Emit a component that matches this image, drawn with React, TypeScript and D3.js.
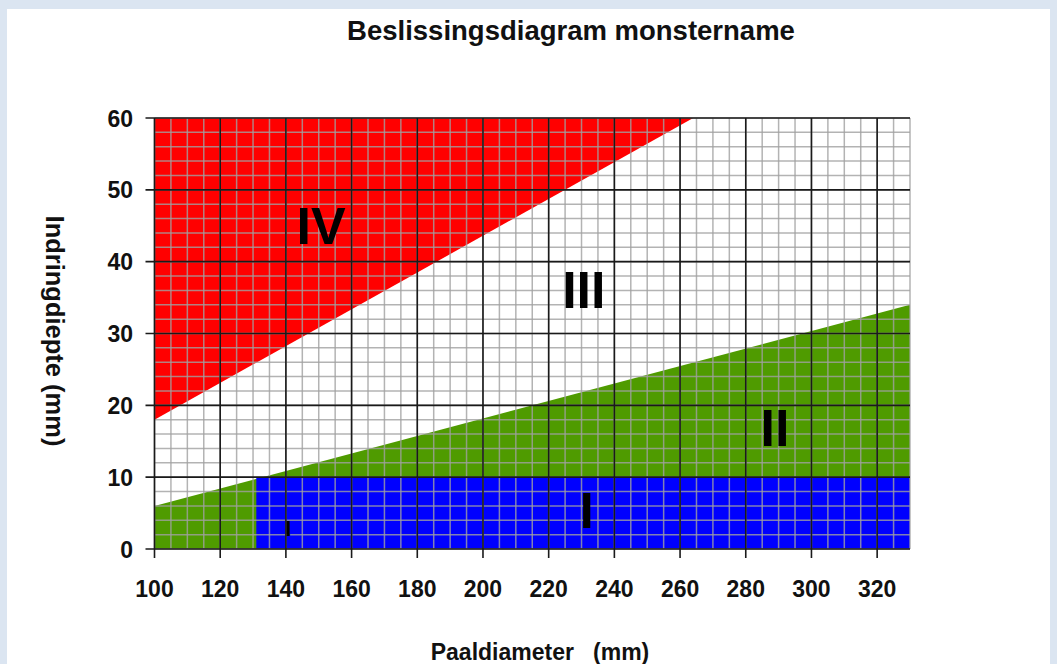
import React from "react";
import * as d3 from "d3";

const W = 1057;
const H = 664;

const chartTitle = "Beslissingsdiagram monstername";
const xTitle = "Paaldiameter   (mm)";
const yTitle = "Indringdiepte (mm)";

const xDomain = [100, 330];
const yDomain = [0, 60];
const xTicks = [100, 120, 140, 160, 180, 200, 220, 240, 260, 280, 300, 320];
const yTicks = [0, 10, 20, 30, 40, 50, 60];
const xMinorStep = 5;
const yMinorStep = 2;

// Zone polygons in data units (Paaldiameter, Indringdiepte)
const zoneIV: [number, number][] = [[100, 18], [264, 60], [100, 60]];
const zoneII: [number, number][] = [[100, 0], [100, 6], [330, 34], [330, 0]];
const zoneI: [number, number][] = [[131, 0], [131, 10], [330, 10], [330, 0]];

const zoneLabels = ["IV", "III", "II", "I", "I"];
const labelX = [150.7, 230.7, 288.9, 231.6, 140.7];
const labelY = [45.1, 36.2, 16.9, 5.4, 2.9];
const labelSize = [52, 52, 52, 50, 22];

export default function App() {
  const m = { left: 154.5, right: 910, top: 118, bottom: 549 };
  const x = d3.scaleLinear().domain(xDomain).range([m.left, m.right]);
  const y = d3.scaleLinear().domain(yDomain).range([m.bottom, m.top]);
  const line = d3
    .line<[number, number]>()
    .x((d) => x(d[0]))
    .y((d) => y(d[1]))
    .curve(d3.curveLinearClosed);

  const xMinor = d3.range(xDomain[0], xDomain[1] + 0.001, xMinorStep);
  const yMinor = d3.range(yDomain[0], yDomain[1] + 0.001, yMinorStep);
  const font = "'Liberation Sans', Arial, sans-serif";

  return (
    <svg
      width={W}
      height={H}
      style={{ position: "absolute", left: 0, top: 0, display: "block" }}
      fontFamily={font}
    >
      <rect x={0} y={0} width={W} height={H} fill="#dbe5f1" />
      <rect x={7} y={9} width={1043} height={H} fill="#ffffff" />

      <text x={571} y={40} textAnchor="middle" fontSize={27.5} fontWeight="bold" fill="#111">
        {chartTitle}
      </text>

      {/* zones */}
      <path d={line(zoneIV) || ""} fill="#ff0000" />
      <path d={line(zoneII) || ""} fill="#4f9b00" />
      <path d={line(zoneI) || ""} fill="#0000ff" />

      {/* minor grid */}
      <g stroke="#a0a0a0" strokeOpacity={0.8} strokeWidth={1.5}>
        {xMinor.map((v) => (
          <line key={"xm" + v} x1={x(v)} x2={x(v)} y1={y(60)} y2={y(0)} />
        ))}
        {yMinor.map((v) => (
          <line key={"ym" + v} x1={x(100)} x2={x(330)} y1={y(v)} y2={y(v)} />
        ))}
      </g>
      {/* major grid */}
      <g stroke="#1a1a1a" strokeWidth={1.6}>
        {xTicks.map((v) => (
          <line key={"xM" + v} x1={x(v)} x2={x(v)} y1={y(60)} y2={y(0) + 9} />
        ))}
        {yTicks.map((v) => (
          <line key={"yM" + v} x1={x(100) - 9} x2={x(330)} y1={y(v)} y2={y(v)} />
        ))}
      </g>

      {/* tick labels */}
      {xTicks.map((v) => (
        <text key={"xt" + v} x={x(v)} y={597} textAnchor="middle" fontSize={23} fontWeight="bold" fill="#111">
          {v}
        </text>
      ))}
      {yTicks.map((v) => (
        <text key={"yt" + v} x={133} y={y(v) + 8.5} textAnchor="end" fontSize={23} fontWeight="bold" fill="#111">
          {v}
        </text>
      ))}

      {/* zone labels */}
      {zoneLabels.map((t, i) => (
        <text
          key={"zl" + i}
          x={x(labelX[i])}
          y={y(labelY[i]) + labelSize[i] * 0.358}
          textAnchor="middle"
          fontSize={labelSize[i]}
          fontWeight="bold"
          fill="#000"
        >
          {t}
        </text>
      ))}

      {/* axis titles */}
      <text x={540} y={660} textAnchor="middle" fontSize={23} fontWeight="bold" fill="#111" style={{ whiteSpace: "pre" }}>
        {xTitle}
      </text>
      <text
        transform="translate(46,331) rotate(90)"
        textAnchor="middle"
        fontSize={25.5}
        fontWeight="bold"
        fill="#111"
      >
        {yTitle}
      </text>
    </svg>
  );
}
